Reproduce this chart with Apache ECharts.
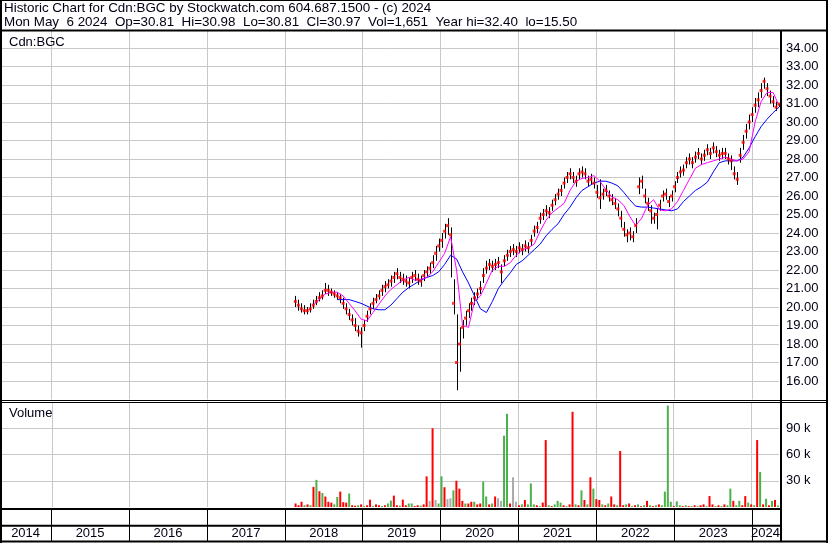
<!DOCTYPE html>
<html><head><meta charset="utf-8">
<script src="https://cdn.jsdelivr.net/npm/echarts@6/dist/echarts.min.js"></script>
<style>html,body{margin:0;padding:0;background:#fff}#c{width:830px;height:543px}</style>
</head><body><div id="c"></div>
<script>
// ---------- DATA ----------
const yearLabels = ['2014','2015','2016','2017','2018','2019','2020','2021','2022','2023','2024'];
const rangeStart = '2014-05-06';
const rangeEnd = '2024-05-06';
const seriesStart = '2018-02-19';   // first plotted day
const stepDays = 14;                // spacing of price / volume samples
const maStepDays = 28;              // spacing of moving-average samples

const close = [20.3,20.1,19.9,19.8,19.8,19.9,20.1,20.3,20.5,20.6, 20.9,20.9,20.8,20.7,20.6,20.5,20.2,19.9,19.6,19.3,
 19.0,18.7,18.6,19.0,19.5,19.9,20.2,20.4,20.6,20.9, 21.1,21.2,21.4,21.6,21.8,21.6,21.5,21.4,21.3,21.6,
 21.7,21.5,21.4,21.7,21.9,22.1,22.4,22.9,23.3,23.6, 24.1,24.4,23.9,20.2,17.0,18.0,18.9,19.4,19.8,20.2,
 20.5,20.7,21.0,21.7,22.1,22.3,22.2,22.3,22.4,21.9, 22.5,22.8,23.0,23.1,23.0,23.2,23.1,23.3,23.2,23.6,
 24.1,24.3,24.8,25.0,25.2,25.1,25.5,25.8,26.1,26.3, 26.7,27.0,27.2,27.0,26.8,27.2,27.3,27.2,26.8,26.9,
 26.7,26.2,25.9,26.1,26.3,26.0,25.8,25.6,25.3,24.8, 24.2,23.9,24.0,23.8,24.4,26.5,26.8,26.0,25.6,25.2,
 24.8,25.0,25.5,26.0,26.1,25.7,26.0,26.5,27.0,27.3, 27.4,27.8,28.0,27.8,28.1,28.3,28.0,28.2,28.5,28.3,
 28.6,28.4,28.2,28.3,28.3,28.0,27.9,27.2,26.9,28.2, 28.9,29.5,30.0,30.4,30.9,31.2,31.7,32.2,31.8,31.4,
 31.1,30.8,30.97];
const high = [20.6,20.4,20.2,20.1,20.0,20.2,20.4,20.6,20.8,20.9, 21.3,21.2,21.0,20.9,20.8,20.7,20.5,20.2,19.9,19.6,
 19.4,19.0,18.9,19.3,19.8,20.2,20.5,20.7,20.9,21.2, 21.4,21.5,21.7,21.9,22.1,21.9,21.8,21.7,21.6,21.9,
 22.0,21.8,21.7,22.0,22.2,22.4,22.8,23.3,23.7,24.0, 24.5,24.8,24.3,21.5,19.6,18.9,19.3,19.8,20.2,20.5,
 20.8,21.0,21.4,22.1,22.5,22.6,22.5,22.6,22.7,22.3, 22.8,23.1,23.3,23.4,23.3,23.5,23.4,23.6,23.5,23.9,
 24.4,24.6,25.1,25.3,25.5,25.4,25.8,26.1,26.4,26.6, 27.0,27.3,27.5,27.3,27.1,27.5,27.6,27.5,27.1,27.2,
 27.0,26.6,26.9,26.4,26.6,26.3,26.1,25.9,25.6,25.2, 24.6,24.2,24.3,24.1,24.8,27.0,27.1,26.4,25.9,25.5,
 25.1,25.3,25.8,26.3,26.4,26.0,26.3,26.8,27.3,27.6, 27.7,28.1,28.3,28.1,28.4,28.6,28.3,28.5,28.8,28.6,
 28.9,28.7,28.5,28.6,28.6,28.3,28.2,27.6,27.3,28.6, 29.3,29.9,30.4,30.8,31.3,31.6,32.1,32.4,32.1,31.7,
 31.4,31.1,30.98];
const low = [20.0,19.8,19.7,19.6,19.6,19.7,19.9,20.1,20.3,20.4, 20.7,20.6,20.6,20.5,20.4,20.2,19.9,19.6,19.3,19.0,
 18.7,18.4,17.8,18.7,19.2,19.6,19.9,20.2,20.4,20.6, 20.8,21.0,21.1,21.3,21.5,21.3,21.2,21.1,21.0,21.3,
 21.4,21.2,21.1,21.4,21.6,21.8,22.1,22.5,23.0,23.2, 23.7,23.9,21.6,19.6,15.5,16.5,18.3,19.0,19.4,19.8,
 20.1,20.4,20.7,21.3,21.8,22.0,21.9,22.0,22.1,21.3, 22.2,22.5,22.7,22.8,22.7,22.9,22.8,23.0,22.9,23.3,
 23.8,24.0,24.5,24.7,24.9,24.8,25.2,25.5,25.8,26.0, 26.4,26.7,26.9,26.7,26.5,26.9,27.0,26.9,26.5,26.6,
 26.4,25.9,25.3,25.8,26.0,25.7,25.5,25.3,24.9,24.3, 23.8,23.5,23.6,23.5,24.0,26.1,26.4,25.6,25.2,24.5,
 24.5,24.2,25.2,25.7,25.8,25.4,25.7,26.2,26.7,27.0, 27.1,27.5,27.7,27.5,27.8,28.0,27.7,27.9,28.2,28.0,
 28.3,28.1,27.9,28.0,28.0,27.7,27.4,26.9,26.6,27.8, 28.5,29.1,29.6,30.0,30.5,30.8,31.3,31.8,31.4,31.0,
 30.8,30.6,30.81];
const maShort = [null,null,null,20.1,20.4,20.7,20.8,20.8,20.6,20.2, 19.8,19.35,19.25,19.7,20.15,20.6,20.95,21.2,21.45,21.6,
 21.45,21.5,21.6,21.9,22.4,22.9,23.8,22.0,19.0,18.9, 20.3,20.6,21.3,22.0,22.2,22.2,22.4,22.8,23.1,23.2,
 23.4,24.1,24.7,25.1,25.35,25.6,26.3,26.8,26.95,27.0, 27.1,26.8,26.35,25.95,25.8,25.5,24.9,24.4,24.8,25.5,
 25.8,25.25,25.2,25.3,25.7,26.3,26.9,27.5,27.7,27.8, 27.9,28.0,28.1,28.0,27.9,28.0,28.4,30.0,31.1,31.6,
 31.6,30.9];
const maLong = [null,null,null,null,null,null,null,20.4,20.4,20.4, 20.3,20.2,20.05,19.9,19.85,19.85,20.1,20.45,20.8,21.05,
 21.25,21.45,21.6,21.7,21.9,22.3,22.8,22.6,21.9,21.3, 20.6,19.9,19.7,20.3,21.0,21.45,21.85,22.3,22.5,22.8,
 23.1,23.4,23.85,24.2,24.5,25.0,25.4,25.9,26.3,26.5, 26.7,26.8,26.8,26.7,26.55,26.2,25.8,25.45,25.4,25.4,
 25.35,25.3,25.25,25.2,25.3,25.7,26.0,26.3,26.5,26.75, 27.3,27.8,27.9,27.9,27.9,28.1,28.6,29.2,29.75,30.15,
 30.5,30.8];
// volume in thousands of shares
const volumeK = [4,2,6,2,3,2,23,31,18,16, 12,6,5,3,11.5,17.6,5.5,5,15.4,2, 1.5,2,3,1,2,8.4,1,3,2,1,
 2,4,7.3,13,2,1.5,8.4,2,4,4, 1,2,1.5,3,35,7,90,8,4,35, 22.6,9,10,19,30,21,7,4,4,6,
 6,3,4,29,12,3,4,12,10,7, 81.5,106.5,4,34,6,2,3,8,3,27, 3,2,1,5,76.5,2,1,3,7,5,
 2,1,3,108.8,3,2,19,8,3,34, 21,9,8,3,2,4,12,3,2,64, 2,3,4,1,2,3,1,2,7,2,
 1,2,3,2,17.6,116,6,1,6.5,2, 1,2,1,1,2,1,2,3,1,12.5, 3,1,2,1,3,2,21,7,2,7,
 2,12.5,5,3,2,76.5,40,3,9.4,2, 7,8,1.65];
// d = down day, u = up day, n = unchanged
const volDir = ['d','d','d','u','d','u','d','u','d','u', 'd','d','d','u','u','d','d','d','u','d',
 'd','u','d','u','d','d','u','d','d','u', 'd','u','u','d','d','u','d','d','u','u',
 'd','d','u','d','d','n','d','n','u','u', 'd','n','n','u','d','d','d','u','d','d',
 'u','d','d','u','u','d','u','d','n','n', 'u','u','d','n','n','d','u','d','u','u',
 'u','d','u','d','d','u','d','u','u','u', 'd','u','d','d','u','d','u','d','u','d',
 'u','d','d','u','d','u','d','d','u','d', 'd','u','d','u','d','u','d','u','d','u',
 'd','u','d','u','u','u','u','d','u','u', 'd','u','d','u','d','u','d','d','u','d',
 'd','u','d','u','d','u','u','d','u','u', 'd','d','u','d','u','d','u','d','u','d',
 'u','d','u'];
const headerLine1 = 'Historic Chart for Cdn:BGC by Stockwatch.com 604.687.1500 - (c) 2024';
const headerLine2 = 'Mon May  6 2024  Op=30.81  Hi=30.98  Lo=30.81  Cl=30.97  Vol=1,651  Year hi=32.40  lo=15.50';
const symbolName = 'Cdn:BGC';
const volumeTitle = 'Volume';

// ---------- HELPERS ----------
function toTime(s, addDays) {
  const p = s.split('-').map(Number);
  return +new Date(p[0], p[1] - 1, p[2] + (addDays || 0));
}
const xMin = toTime(rangeStart), xMax = toTime(rangeEnd);
const dayAt = (i, step) => toTime(seriesStart, i * step);

const ohlc = close.map((c, i) => [dayAt(i, stepDays), high[i], low[i]]);
const closePts = close.map((c, i) => [dayAt(i, stepDays), c]);
const maShortPts = maShort.map((v, i) => [dayAt(i, maStepDays), v]);
const maLongPts = maLong.map((v, i) => [dayAt(i, maStepDays), v]);
const dirColor = { d: '#ff0000', u: '#4cb04c', n: '#aaaaaa' };
const volPts = volumeK.map((v, i) => ({ value: [dayAt(i, stepDays), v * 1000], itemStyle: { color: dirColor[volDir[i]] } }));
const yearBounds = yearLabels.slice(1).map(y => ({ xAxis: toTime(y + '-01-01') }));
const yearCells = yearLabels.map(y => [toTime(y + '-01-01'), toTime((+y + 1) + '-01-01'), 0.5]);

const FONT = '"Liberation Sans", Arial, sans-serif';
const GRID = '#c8c8c8';
const TXT = '#000014';

const W = 779;
const grids = [
  { left: 0, top: 29.5, width: W, height: 370 },
  { left: 0, top: 402, width: W, height: 105 },
  { left: 0, top: 510, width: W, height: 31 }
];
const xAxes = [0, 1, 2].map(i => ({ type: 'time', gridIndex: i, min: xMin, max: xMax, show: false }));

function yearMark(color) {
  return { silent: true, symbol: ['none', 'none'], z: 1, label: { show: false },
    lineStyle: { color: color, width: 1, type: 'solid' }, emphasis: { disabled: true },
    animation: false, data: yearBounds };
}

function frameLine(x1, y1, x2, y2, w) {
  return { type: 'line', silent: true, z: 100, shape: { x1, y1, x2, y2 }, style: { stroke: '#000', lineWidth: w } };
}
function label(text, x, y, size) {
  return { type: 'text', silent: true, z: 100, x: x, y: y,
    style: { text: text, font: (size || 13) + 'px ' + FONT, fill: TXT, textVerticalAlign: 'middle', verticalAlign: 'middle' } };
}

const chart = echarts.init(document.getElementById('c'), null, { renderer: 'canvas', width: 830, height: 543 });
chart.setOption({
  animation: false,
  backgroundColor: '#ffffff',
  grid: grids,
  xAxis: xAxes,
  yAxis: [
    { type: 'value', gridIndex: 0, position: 'right', min: 15, max: 35, interval: 1,
      axisLine: { show: false }, axisTick: { show: false },
      axisLabel: { margin: 7, color: TXT, fontSize: 13, fontFamily: FONT, showMinLabel: false, showMaxLabel: false,
        formatter: v => v.toFixed(2) },
      splitLine: { show: true, showMinLine: false, showMaxLine: false, lineStyle: { color: GRID, width: 1 } } },
    { type: 'value', gridIndex: 1, position: 'right', min: 0, max: 120000, interval: 30000,
      axisLine: { show: false }, axisTick: { show: false },
      axisLabel: { margin: 7, color: TXT, fontSize: 13, fontFamily: FONT, showMinLabel: false, showMaxLabel: false,
        formatter: v => (v / 1000) + ' k' },
      splitLine: { show: true, showMinLine: false, showMaxLine: false, lineStyle: { color: GRID, width: 1 } } },
    { type: 'value', gridIndex: 2, min: 0, max: 2, show: false }
  ],
  series: [
    { type: 'custom', name: 'range', xAxisIndex: 0, yAxisIndex: 0, data: ohlc, z: 2, silent: true,
      encode: { x: 0, y: [1, 2] },
      renderItem: (params, api) => {
        const t = api.value(0);
        const a = api.coord([t, api.value(1)]);
        const b = api.coord([t, api.value(2)]);
        const x = Math.round(a[0]) + 0.5;
        return { type: 'line', shape: { x1: x, y1: a[1], x2: x, y2: b[1] }, style: { stroke: '#000', lineWidth: 1 } };
      },
      markLine: yearMark(GRID) },
    { type: 'line', name: 'long', xAxisIndex: 0, yAxisIndex: 0, data: maLongPts, showSymbol: false, z: 3,
      lineStyle: { color: '#0000ff', width: 1 }, itemStyle: { color: '#0000ff' }, silent: true },
    { type: 'line', name: 'short', xAxisIndex: 0, yAxisIndex: 0, data: maShortPts, showSymbol: false, z: 4,
      lineStyle: { color: '#ff00ff', width: 1 }, itemStyle: { color: '#ff00ff' }, silent: true },
    { type: 'scatter', name: 'close', xAxisIndex: 0, yAxisIndex: 0, data: closePts, symbol: 'rect', symbolSize: 3, z: 5,
      itemStyle: { color: '#ff0000' }, silent: true },
    { type: 'bar', name: 'volume', xAxisIndex: 1, yAxisIndex: 1, data: volPts, barWidth: 2, silent: true,
      markLine: yearMark(GRID) },
    { type: 'custom', name: 'years', xAxisIndex: 2, yAxisIndex: 2, data: yearCells, silent: true, clip: false,
      encode: { x: [0, 1], y: 2 },
      renderItem: (params, api) => {
        const cs = params.coordSys;
        let x0 = api.coord([api.value(0), 0])[0];
        let x1 = api.coord([api.value(1), 0])[0];
        x0 = Math.max(x0, cs.x); x1 = Math.min(x1, cs.x + cs.width);
        const y = api.coord([api.value(0), api.value(2)])[1];
        return { type: 'text', x: (x0 + x1) / 2, y: y,
          style: { text: yearLabels[params.dataIndex], font: '13px ' + FONT, fill: TXT,
            align: 'center', textAlign: 'center', verticalAlign: 'middle', textVerticalAlign: 'middle' } };
      },
      markLine: yearMark('#000') }
  ],
  graphic: [
    frameLine(1, 0, 1, 543, 2),
    frameLine(827, 0, 827, 543, 2),
    frameLine(0, 0.5, 828, 0.5, 1),
    frameLine(0, 541.5, 828, 541.5, 2),
    frameLine(0, 30.5, 828, 30.5, 2),
    frameLine(781, 30, 781, 542, 2),
    frameLine(0, 400.5, 828, 400.5, 1),
    frameLine(0, 402.5, 828, 402.5, 1),
    frameLine(0, 509, 781, 509, 2),
    frameLine(0, 525.7, 781, 525.7, 2),
    label(headerLine1, 4, 8, 13.4),
    label(headerLine2, 4, 22, 13.4),
    label(symbolName, 9, 42),
    label(volumeTitle, 9, 413)
  ]
});
</script>
</body></html>
